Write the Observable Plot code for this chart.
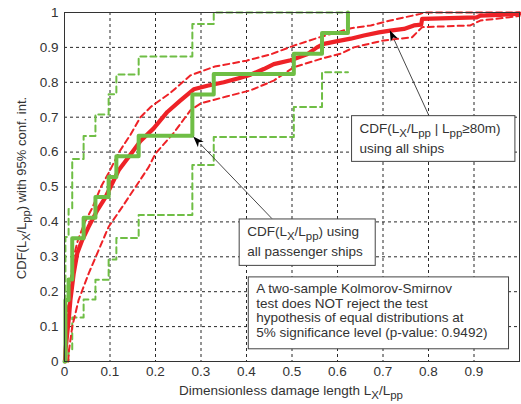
<!DOCTYPE html>
<html><head><meta charset="utf-8">
<script src="https://cdn.jsdelivr.net/npm/d3@7"></script>
<script src="https://cdn.jsdelivr.net/npm/@observablehq/plot@0.6"></script>
<style>body{margin:0;background:#fff} svg{display:block}</style>
</head><body><div id="chart"></div>
<script>
// ---- data ----
// all ships (L_pp >= 80 m): empirical CDF with 95% bounds
const allX = [0.001,0.002,0.006,0.010,0.013,0.020,0.028,0.039,0.053,0.072,0.090,0.101,0.119,0.141,0.167,0.196,0.226,0.255,0.284,0.314,0.350,0.387,0.409,0.438,0.460,0.497,0.533,0.555,0.570,0.600,0.629,0.658,0.691,0.716,0.746,0.768,0.784,0.786,0.906,0.914,0.958,1.0];
const allY = [0,0.03,0.08,0.13,0.176,0.25,0.31,0.348,0.386,0.433,0.47,0.5,0.548,0.586,0.632,0.668,0.715,0.748,0.78,0.79,0.80,0.813,0.822,0.838,0.852,0.863,0.88,0.90,0.91,0.918,0.925,0.934,0.943,0.948,0.953,0.963,0.965,0.982,0.986,0.991,0.993,0.997];
const allUpX = [0.001,0.004,0.008,0.013,0.020,0.030,0.045,0.061,0.080,0.097,0.120,0.145,0.167,0.190,0.233,0.277,0.330,0.400,0.453,0.504,0.563,0.630,0.673,0.716,0.782,0.790,1.0];
const allUpY = [0.03,0.10,0.16,0.23,0.30,0.35,0.40,0.44,0.50,0.54,0.60,0.65,0.70,0.73,0.77,0.82,0.845,0.862,0.88,0.905,0.93,0.955,0.963,0.977,0.996,1.0,1.0];
const allLoX = [0.008,0.010,0.017,0.031,0.053,0.075,0.097,0.127,0.156,0.185,0.200,0.240,0.277,0.300,0.358,0.409,0.460,0.504,0.563,0.607,0.636,0.702,0.764,0.786,0.892,0.914,0.950,1.0];
const allLoY = [0,0.033,0.10,0.176,0.252,0.319,0.386,0.443,0.50,0.557,0.596,0.655,0.72,0.74,0.76,0.777,0.805,0.843,0.867,0.882,0.90,0.92,0.929,0.958,0.963,0.977,0.982,0.99];

// passenger ships: step CDF with 95% bounds
const paxX  = [0,0.002,0.009,0.017,0.042,0.068,0.097,0.114,0.163,0.281,0.328,0.504,0.566,0.623];
const paxY  = [0,0.176,0.235,0.353,0.412,0.471,0.529,0.588,0.647,0.765,0.824,0.882,0.941,1.0];
const paxUpX = [0.002,0.002,0.009,0.017,0.042,0.068,0.097,0.114,0.163,0.281,0.328,0.623];
const paxUpY = [0,0.357,0.437,0.58,0.646,0.708,0.766,0.822,0.874,0.967,1.0,1.0];
const paxLoX = [0,0.009,0.017,0.042,0.068,0.097,0.114,0.163,0.281,0.328,0.504,0.566,0.623];
const paxLoY = [0,0.034,0.126,0.178,0.234,0.292,0.354,0.42,0.563,0.643,0.729,0.829,0.829];

const xTicks = [0,0.1,0.2,0.3,0.4,0.5,0.6,0.7,0.8,0.9];
const xTickLabels = ["0","0.1","0.2","0.3","0.4","0.5","0.6","0.7","0.8","0.9"];
const yTicks = [0,0.1,0.2,0.3,0.4,0.5,0.6,0.7,0.8,0.9,1];
const yTickLabels = ["0","0.1","0.2","0.3","0.4","0.5","0.6","0.7","0.8","0.9","1"];
const gridVals = [0.1,0.2,0.3,0.4,0.5,0.6,0.7,0.8,0.9];

const pts = (xs, ys) => xs.map((x, i) => ({x, y: ys[i]}));

const RED = "#ee2227", GREEN = "#6fbe45";
const FONT = "'Liberation Sans', Arial, Helvetica, sans-serif";

const plot = Plot.plot({
  width: 521, height: 404,
  marginLeft: 64, marginRight: 2, marginTop: 12, marginBottom: 43,
  style: {fontFamily: FONT, fontSize: "13.5px", background: "#fff", color: "#333"},
  x: {domain: [0, 1], label: null},
  y: {domain: [0, 1], label: null},
  marks: [
    Plot.ruleX(gridVals, {stroke: "#111", strokeWidth: 0.9, strokeDasharray: "3,3"}),
    Plot.ruleY(gridVals, {stroke: "#111", strokeWidth: 0.9, strokeDasharray: "3,3"}),
    Plot.line(pts(paxUpX, paxUpY), {x: "x", y: "y", curve: "step-after", stroke: GREEN, strokeWidth: 2, strokeDasharray: "6,4"}),
    Plot.line(pts(paxLoX, paxLoY), {x: "x", y: "y", curve: "step-after", stroke: GREEN, strokeWidth: 2, strokeDasharray: "6,4"}),
    Plot.line(pts(allUpX, allUpY), {x: "x", y: "y", stroke: RED, strokeWidth: 2, strokeDasharray: "6,4"}),
    Plot.line(pts(allLoX, allLoY), {x: "x", y: "y", stroke: RED, strokeWidth: 2, strokeDasharray: "6,4"}),
    Plot.line(pts(allX, allY), {x: "x", y: "y", stroke: RED, strokeWidth: 4.2}),
    Plot.line(pts(paxX, paxY), {x: "x", y: "y", curve: "step-after", stroke: GREEN, strokeWidth: 4}),
    Plot.frame({stroke: "#333", strokeWidth: 1}),
    Plot.axisX(xTicks, {tickSize: 0, tickPadding: 5, tickFormat: (d, i) => xTickLabels[i], fill: "#333", label: null}),
    Plot.axisY(yTicks, {tickSize: 0, tickPadding: 6, tickFormat: (d, i) => yTickLabels[i], fill: "#333", label: null})
  ]
});
document.getElementById("chart").appendChild(plot);

const sx = plot.scale("x").apply, sy = plot.scale("y").apply;
const svg = d3.select(plot);

// helper for text with subscripts: parts = [[text, isSub], ...]
function richText(g, parts, attrs) {
  const t = g.append("text").attr("text-anchor", "start");
  Object.entries(attrs).forEach(([k, v]) => t.attr(k, v));
  let sub = false;
  parts.forEach(([s, isSub]) => {
    const ts = t.append("tspan").text(s);
    if (isSub && !sub) { ts.attr("dy", 3.5).attr("font-size", "0.85em"); }
    else if (!isSub && sub) { ts.attr("dy", -3.5); }
    else if (isSub) { ts.attr("font-size", "0.85em"); }
    sub = isSub;
  });
  return t;
}

const g = svg.append("g").attr("font-family", FONT).attr("fill", "#333");

// axis titles
richText(g, [["Dimensionless damage length L", false], ["X", true], ["/L", false], ["pp", true]],
  {x: 291, y: 395, "text-anchor": "middle", "font-size": 13.5});
richText(g, [["CDF(L", false], ["X", true], ["/L", false], ["pp", true], [") with 95% conf. int.", false]],
  {transform: "translate(26,188) rotate(-90)", "text-anchor": "middle", "font-size": 13});

// annotation layout (data units)
const boxes = [
  {x1: 0.632, x2: 0.991, y1: 0.572, y2: 0.703,
   lines: [[["CDF(L", false], ["X", true], ["/L", false], ["pp", true], [" | L", false], ["pp", true], ["\u226580m)", false]],
           [["using all ships", false]]]},
  {x1: 0.385, x2: 0.684, y1: 0.274, y2: 0.407,
   lines: [[["CDF(L", false], ["X", true], ["/L", false], ["pp", true], [") using", false]],
           [["all passenger ships", false]]]},
  {x1: 0.405, x2: 0.977, y1: 0.035, y2: 0.241,
   lines: [[["A two-sample Kolmorov-Smirnov", false]],
           [["test does NOT reject the test", false]],
           [["hypothesis of equal distributions at", false]],
           [["5% significance level (p-value: 0.9492)", false]]]}
];
const arrows = [
  {x1: 0.802, y1: 0.703, x2: 0.716, y2: 0.948},
  {x1: 0.457, y1: 0.408, x2: 0.284, y2: 0.643}
];

arrows.forEach(a => {
  const X1 = sx(a.x1), Y1 = sy(a.y1), X2 = sx(a.x2), Y2 = sy(a.y2);
  const ang = Math.atan2(Y2 - Y1, X2 - X1), L = 11, W = 4;
  const bx = X2 - L * Math.cos(ang), by = Y2 - L * Math.sin(ang);
  g.append("line").attr("x1", X1).attr("y1", Y1).attr("x2", bx).attr("y2", by)
    .attr("stroke", "#333").attr("stroke-width", 0.9);
  const px = -Math.sin(ang) * W, py = Math.cos(ang) * W;
  g.append("path").attr("d", `M${X2},${Y2}L${bx + px},${by + py}L${bx + 3*Math.cos(ang)},${by + 3*Math.sin(ang)}L${bx - px},${by - py}Z`)
    .attr("fill", "#000");
});

boxes.forEach(b => {
  const X1 = sx(b.x1), X2 = sx(b.x2), Yt = sy(b.y2), Yb = sy(b.y1);
  g.append("rect").attr("x", X1).attr("y", Yt).attr("width", X2 - X1).attr("height", Yb - Yt)
    .attr("fill", "#fff").attr("stroke", "#444").attr("stroke-width", 1);
  const n = b.lines.length;
  const lh = n > 2 ? 14.8 : 20;
  const top = Yt + (n > 2 ? 16 : 17.5);
  b.lines.forEach((ln, i) => {
    richText(g, ln, {x: X1 + 8, y: top + i * lh, "font-size": 13.5});
  });
});
</script>
</body></html>
